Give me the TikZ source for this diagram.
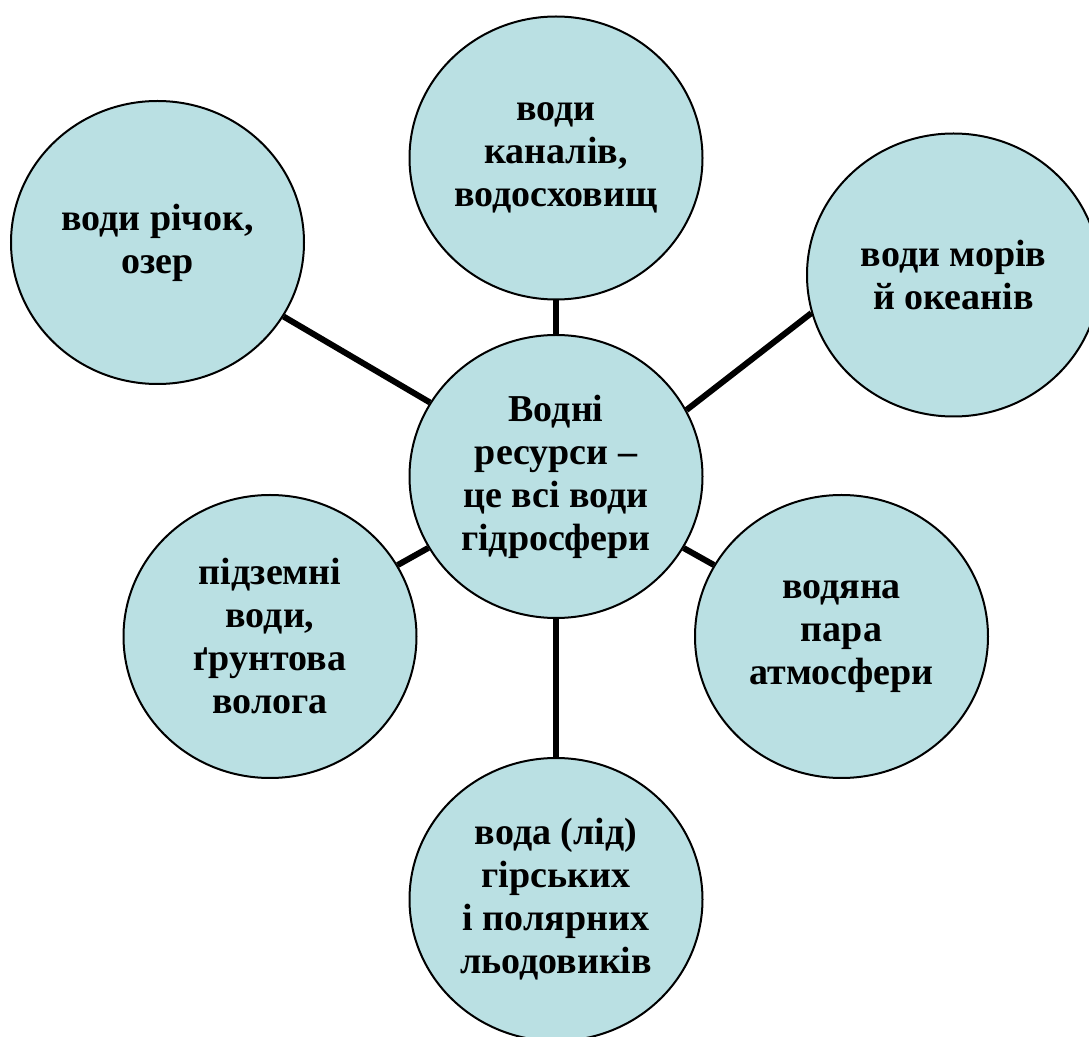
\documentclass[tikz,border=0pt]{standalone}
\usepackage{fontspec}
\setmainfont{Liberation Serif}
\usetikzlibrary{shapes.geometric}
\definecolor{bub}{RGB}{186,224,227}
\begin{document}
\begin{tikzpicture}[x=0.5pt,y=-0.5pt,
  bubble/.style={ellipse, draw=black, line width=1pt, fill=bub,
    minimum width=146.5pt, minimum height=141.5pt, inner sep=0pt,
    align=center, font=\fontsize{19}{21.5}\selectfont\bfseries},
  link/.style={line width=3pt}]
\useasboundingbox (0,0) rectangle (1089,1037);
\clip (0,0) rectangle (1089,1037);
\node[bubble] (c)  at (556,476.5) {Водні\\ресурси –\\це всі води\\гідросфери};
\node[bubble] (t)  at (556,158)   {води\\каналів,\\водосховищ};
\node[bubble] (tl) at (157.5,242.5) {води річок,\\озер};
\node[bubble] (r)  at (953.5,275) {води морів\\й океанів};
\node[bubble] (a)  at (841.5,636.5) {водяна\\пара\\атмосфери};
\node[bubble] (b)  at (556,899.5) {вода (лід)\\гірських\\і полярних\\льодовиків};
\node[bubble] (l)  at (270,636.5) {підземні\\води,\\ґрунтова\\волога};
\draw[link] (c) -- (t);
\draw[link] (c) -- (tl);
\draw[link] (c.27) -- (r.195);
\draw[link] (c) -- (a);
\draw[link] (c) -- (b);
\draw[link] (c) -- (l);
\end{tikzpicture}
\end{document}
